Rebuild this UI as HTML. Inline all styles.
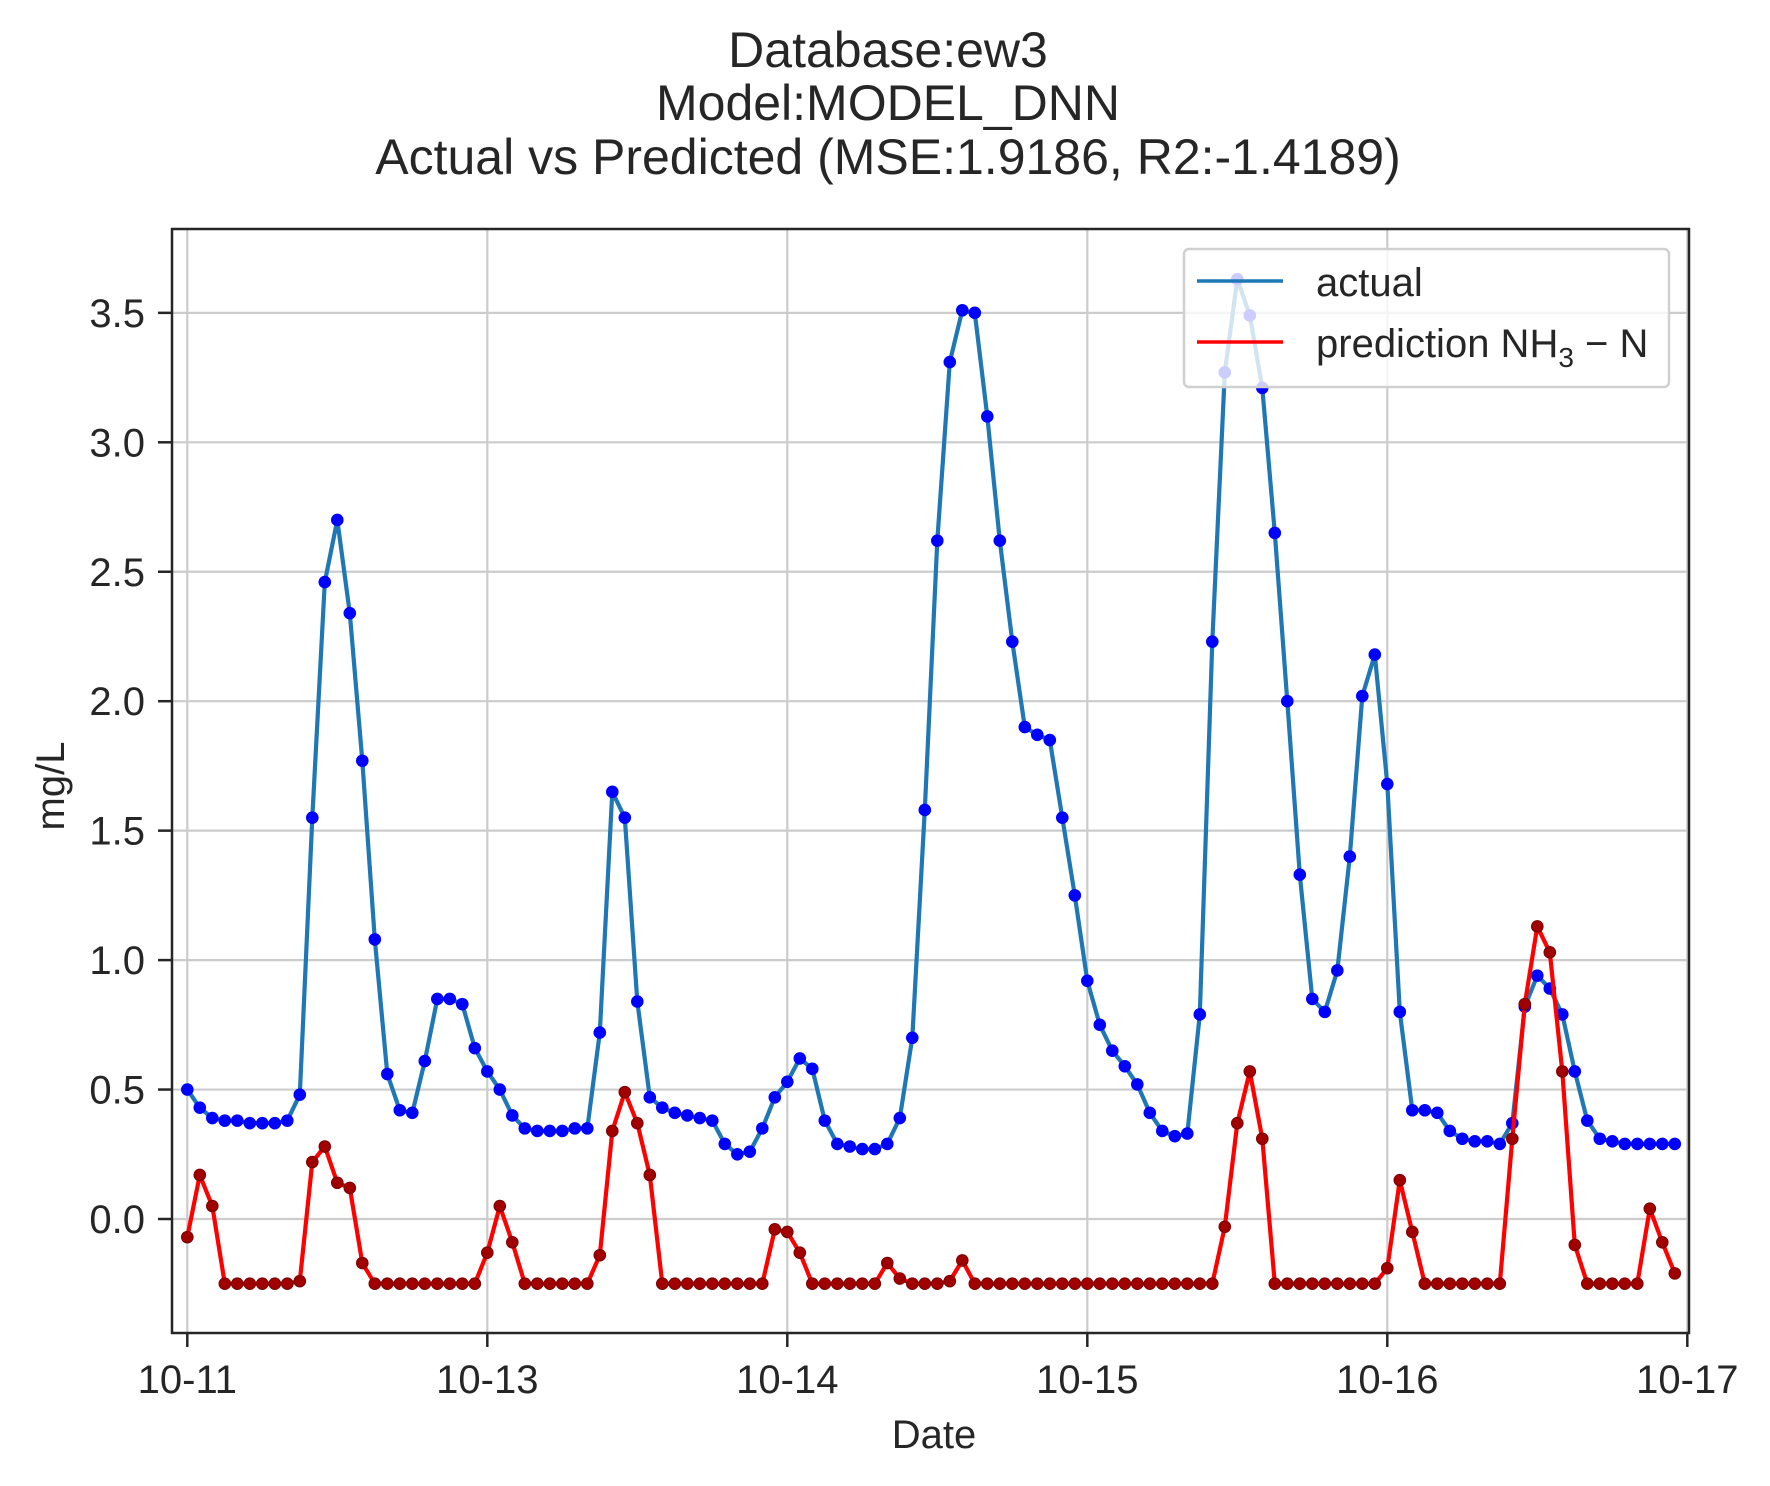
<!DOCTYPE html>
<html><head><meta charset="utf-8">
<style>
html,body{margin:0;padding:0;background:#fff;}
svg{display:block;font-family:"Liberation Sans",Arial,sans-serif;}
</style></head>
<body>
<svg id="chart" width="1770" height="1486" viewBox="0 0 1770 1486" xmlns="http://www.w3.org/2000/svg">
<rect x="0" y="0" width="1770" height="1486" fill="#fff"/>
<g fill="#262626" font-size="50" text-anchor="middle">
<text x="888" y="67">Database:ew3</text>
<text x="888" y="120">Model:MODEL_DNN</text>
<text x="888" y="174">Actual vs Predicted (MSE:1.9186, R2:-1.4189)</text>
</g>
<g id="grid"></g>
<g id="series"></g>
<rect x="172" y="229" width="1517" height="1104" fill="none" stroke="#262626" stroke-width="2.5"/>
<g id="axes"></g>
<text x="934" y="1448" font-size="40" fill="#262626" text-anchor="middle">Date</text>
<text x="0" y="0" font-size="40" fill="#262626" text-anchor="middle" transform="translate(64,786) rotate(-90)">mg/L</text>
<g>
<rect x="1184" y="249" width="485" height="138" rx="5" fill="#fff" fill-opacity="0.8" stroke="#d0d0d0" stroke-width="2.5"/>
<line x1="1197" y1="281" x2="1283" y2="281" stroke="#1f77b4" stroke-width="3.5"/>
<text x="1316" y="296" font-size="40" fill="#262626">actual</text>
<line x1="1197" y1="342" x2="1283" y2="342" stroke="#ff0000" stroke-width="3.5"/>
<text x="1316" y="357" font-size="40" fill="#262626">prediction NH<tspan font-size="28" dy="10">3</tspan><tspan dy="-10"> − N</tspan></text>
</g>
</svg>
<script>
const xTickLabels = ["10-11","10-13","10-14","10-15","10-16","10-17"];
const xTickIndex = [0,24,48,72,96,120];
const yTicks = [0.0,0.5,1.0,1.5,2.0,2.5,3.0,3.5];
const actual = [0.50,0.43,0.39,0.38,0.38,0.37,0.37,0.37,0.38,0.48,
1.55,2.46,2.70,2.34,1.77,1.08,0.56,0.42,0.41,0.61,
0.85,0.85,0.83,0.66,0.57,0.50,0.40,0.35,0.34,0.34,
0.34,0.35,0.35,0.72,1.65,1.55,0.84,0.47,0.43,0.41,
0.40,0.39,0.38,0.29,0.25,0.26,0.35,0.47,0.53,0.62,
0.58,0.38,0.29,0.28,0.27,0.27,0.29,0.39,0.70,1.58,
2.62,3.31,3.51,3.50,3.10,2.62,2.23,1.90,1.87,1.85,
1.55,1.25,0.92,0.75,0.65,0.59,0.52,0.41,0.34,0.32,
0.33,0.79,2.23,3.27,3.63,3.49,3.21,2.65,2.00,1.33,
0.85,0.80,0.96,1.40,2.02,2.18,1.68,0.80,0.42,0.42,
0.41,0.34,0.31,0.30,0.30,0.29,0.37,0.82,0.94,0.89,
0.79,0.57,0.38,0.31,0.30,0.29,0.29,0.29,0.29,0.29];
const prediction = [-0.07,0.17,0.05,-0.25,-0.25,-0.25,-0.25,-0.25,-0.25,-0.24,
0.22,0.28,0.14,0.12,-0.17,-0.25,-0.25,-0.25,-0.25,-0.25,
-0.25,-0.25,-0.25,-0.25,-0.13,0.05,-0.09,-0.25,-0.25,-0.25,
-0.25,-0.25,-0.25,-0.14,0.34,0.49,0.37,0.17,-0.25,-0.25,
-0.25,-0.25,-0.25,-0.25,-0.25,-0.25,-0.25,-0.04,-0.05,-0.13,
-0.25,-0.25,-0.25,-0.25,-0.25,-0.25,-0.17,-0.23,-0.25,-0.25,
-0.25,-0.24,-0.16,-0.25,-0.25,-0.25,-0.25,-0.25,-0.25,-0.25,
-0.25,-0.25,-0.25,-0.25,-0.25,-0.25,-0.25,-0.25,-0.25,-0.25,
-0.25,-0.25,-0.25,-0.03,0.37,0.57,0.31,-0.25,-0.25,-0.25,
-0.25,-0.25,-0.25,-0.25,-0.25,-0.25,-0.19,0.15,-0.05,-0.25,
-0.25,-0.25,-0.25,-0.25,-0.25,-0.25,0.31,0.83,1.13,1.03,
0.57,-0.10,-0.25,-0.25,-0.25,-0.25,-0.25,0.04,-0.09,-0.21];

const NS = "http://www.w3.org/2000/svg";
const X0 = 187.3, DX = 12.5;
const Y0 = 1219, DY = 258.9;
function xs(i){ return X0 + i*DX; }
function ys(v){ return Y0 - v*DY; }
function mk(tag, attrs, parent){
  const e = document.createElementNS(NS, tag);
  for (const k in attrs) e.setAttribute(k, attrs[k]);
  parent.appendChild(e);
  return e;
}
const grid = document.getElementById('grid');
const axes = document.getElementById('axes');
const series = document.getElementById('series');

xTickIndex.forEach((ix, k) => {
  const x = xs(ix);
  const g = mk('line', {x1:x, y1:229, x2:x, y2:1333, stroke:'#cccccc', 'stroke-width':2.2}, grid);
  
  
  const t = mk('line', {x1:x, y1:1333, x2:x, y2:1347, stroke:'#262626', 'stroke-width':2.5}, axes);
  
  
  const l = mk('text', {x:x, y:1393, 'font-size':40, fill:'#262626', 'text-anchor':'middle'}, axes);
  l.textContent = xTickLabels[k];
  
  
});
yTicks.forEach(v => {
  const y = ys(v);
  const g = mk('line', {x1:172, y1:y, x2:1689, y2:y, stroke:'#cccccc', 'stroke-width':2.2}, grid);
  
  
  const t = mk('line', {x1:158, y1:y, x2:172, y2:y, stroke:'#262626', 'stroke-width':2.5}, axes);
  
  
  const l = mk('text', {x:145, y:y+14, 'font-size':40, fill:'#262626', 'text-anchor':'end'}, axes);
  l.textContent = v.toFixed(1);
  
  
});

function drawSeries(data, lineColor, dotFill, dotStroke, name){
  const pts = data.map((v,i) => xs(i).toFixed(1) + ',' + ys(v).toFixed(1)).join(' ');
  const pl = mk('polyline', {points:pts, fill:'none', stroke:lineColor, 'stroke-width':4.2, 'stroke-linejoin':'round'}, series);
  
  
  data.forEach((v,i) => {
    const c = mk('circle', {cx:xs(i), cy:ys(v), r:5.8, fill:dotFill, stroke:dotStroke, 'stroke-width':1}, series);
    
    
  });
}
drawSeries(actual, '#1f77b4', '#0000ff', '#0000ff', 'actual');
drawSeries(prediction, '#ff0000', '#a00000', '#7a0000', 'prediction');
</script>
</body></html>
